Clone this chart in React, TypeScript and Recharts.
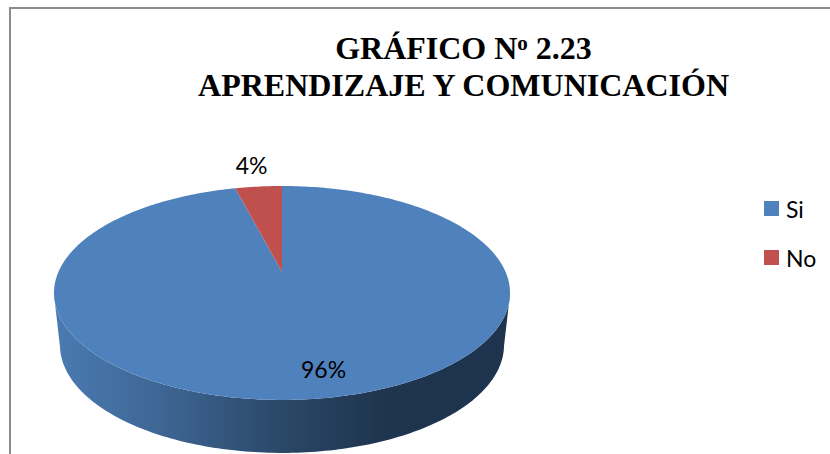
import { PieChart, Pie, Cell, Legend } from 'recharts';

const categories = ['Si', 'No'];
const seriesValues = [96, 4];
const colors = ['#4f81bd', '#c0504d'];
const titleLine1 = ['GRÁFICO N', 'o', ' 2.23'];
const titleLine2 = 'APRENDIZAJE Y COMUNICACIÓN';

const chartData = categories.map((name, i) => ({ name, value: seriesValues[i] }));

// Perspective of the tilted disc: unit circle -> screen
const TILT = 0.196;
const SQUASH = 0.46;
const ELLIPSE_DROP = 21; // centre of the drawn ellipse sits below the pie centre
const WALL_DROP = 52;
const WALL_SCALE_X = 222 / 228;
const WALL_SCALE_Y = 108 / 107;

const project = (cx: number, cy: number, r: number, deg: number, k = 1) => {
    const u = k * Math.cos((deg * Math.PI) / 180);
    const v = k * Math.sin((deg * Math.PI) / 180);
    const d = 1 + TILT * v;
    return { x: cx + (r * u) / d, y: cy - (r * SQUASH * v) / d };
};

function DiscSector(props: any) {
    const { cx, cy, outerRadius, startAngle, endAngle, fill } = props;
    const steps = Math.max(8, Math.ceil(Math.abs(endAngle - startAngle)));
    const rim = [];
    for (let i = 0; i <= steps; i++) {
        rim.push(project(cx, cy, outerRadius, startAngle + ((endAngle - startAngle) * i) / steps));
    }
    const top = `M${cx},${cy} ` + rim.map((p) => `L${p.x.toFixed(2)},${p.y.toFixed(2)}`).join(' ') + ' Z';

    // Side wall: only the part of the rim that faces the viewer
    const midY = cy + ELLIPSE_DROP;
    const front = rim.filter((p) => p.y >= midY);
    let wall = '';
    if (front.length > 1) {
        const lower = front
            .map((p) => ({
                x: cx + (p.x - cx) * WALL_SCALE_X,
                y: midY + WALL_DROP + (p.y - midY) * WALL_SCALE_Y,
            }))
            .reverse();
        wall = [...front, ...lower]
            .map((p, i) => `${i === 0 ? 'M' : 'L'}${p.x.toFixed(2)},${p.y.toFixed(2)}`)
            .join(' ') + ' Z';
    }

    return (
        <g>
            <defs>
                <linearGradient id="wallShade" gradientUnits="userSpaceOnUse" x1="54" y1="0" x2="510" y2="0">
                    <stop offset="0" stopColor="#4a7bb2" />
                    <stop offset="0.22" stopColor="#3f6796" />
                    <stop offset="0.5" stopColor="#2a4868" />
                    <stop offset="0.72" stopColor="#1f344e" />
                    <stop offset="1" stopColor="#1e334d" />
                </linearGradient>
            </defs>
            {wall && <path d={wall} fill="url(#wallShade)" stroke="none" />}
            <path d={top} fill={fill} stroke="none" />
        </g>
    );
}

const renderLabel = (props: any) => {
    const { cx, cy, outerRadius, midAngle, percent, index } = props;
    const k = index === 0 ? 0.8 : 1.316;
    const dx = index === 0 ? 15 : -1;
    const p = project(cx, cy, outerRadius, midAngle, k);
    return (
        <text
            x={p.x + dx}
            y={p.y}
            fill="#000"
            textAnchor="middle"
            dominantBaseline="central"
            fontFamily="Lato"
            fontSize={23}
        >
            {`${Math.round(percent * 100)}%`}
        </text>
    );
};

const renderLegend = (props: any) => (
    <div>
        {props.payload.map((entry: any) => (
            <div
                key={entry.value}
                style={{ display: 'flex', alignItems: 'center', height: 49, fontFamily: 'Lato', fontSize: 23, color: '#000' }}
            >
                <span style={{ width: 15, height: 15, background: entry.color, marginRight: 7 }} />
                {entry.value}
            </div>
        ))}
    </div>
);

export default function App() {
    return (
        <div style={{ position: 'absolute', left: 0, top: 0, width: 830, height: 454, overflow: 'hidden', background: '#fff' }}>
            <div style={{ position: 'absolute', left: 9, top: 7, right: -4, bottom: -4, borderLeft: '2px solid #8c8c8c', borderTop: '2px solid #8c8c8c' }} />
            <PieChart width={830} height={454} margin={{ top: 0, right: 0, bottom: 0, left: 0 }}>
                <text textAnchor="middle" fontFamily="Liberation Serif" fontWeight="bold" fontSize={32} fill="#000">
                    <tspan x={463.5} y={59}>
                        {titleLine1[0]}
                        <tspan dy={-9} fontSize={21}>{titleLine1[1]}</tspan>
                        <tspan dy={9}>{titleLine1[2]}</tspan>
                    </tspan>
                    <tspan x={463.5} y={96}>{titleLine2}</tspan>
                </text>
                <Pie
                    data={chartData}
                    dataKey="value"
                    nameKey="name"
                    cx={282}
                    cy={272}
                    outerRadius={223.6}
                    startAngle={90}
                    endAngle={-270}
                    stroke="none"
                    label={renderLabel}
                    labelLine={false}
                    shape={DiscSector}
                    isAnimationActive={false}
                >
                    {chartData.map((entry, index) => (
                        <Cell key={`cell-${entry.name}`} fill={colors[index]} />
                    ))}
                </Pie>
                <Legend
                    content={renderLegend}
                    itemSorter={null}
                    layout="vertical"
                    wrapperStyle={{ position: 'absolute', left: 764, top: 184, width: 60 }}
                />
            </PieChart>
        </div>
    );
}
